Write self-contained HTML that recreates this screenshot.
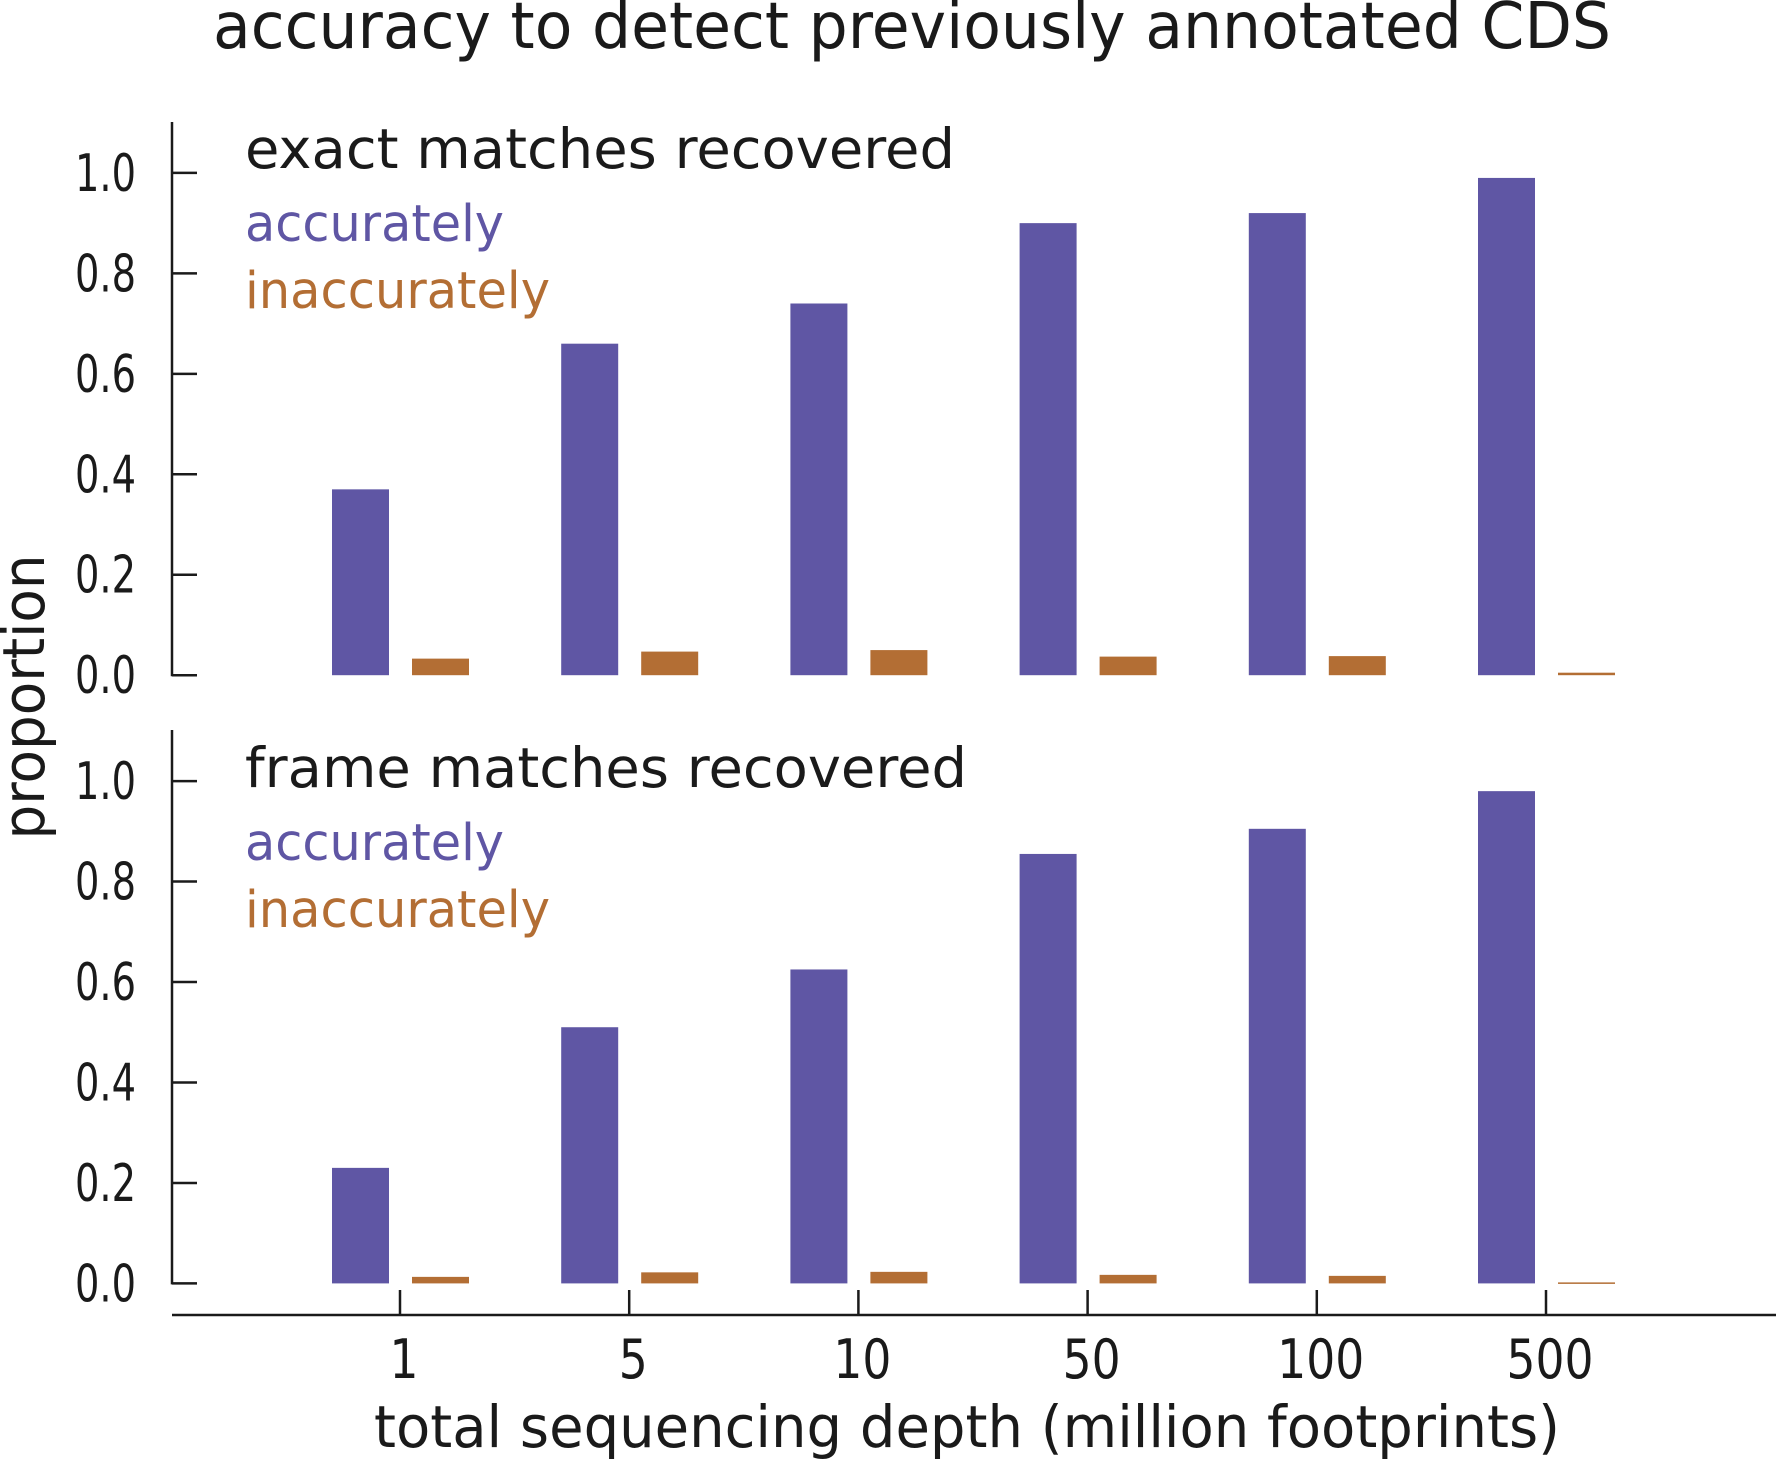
<!DOCTYPE html>
<html><head><meta charset="utf-8"><style>
html,body{margin:0;padding:0;background:#fff;}
svg{display:block;font-family:"DejaVu Sans","Liberation Sans",sans-serif;}
</style></head><body>
<svg id="chart" width="1776" height="1459" viewBox="0 0 1776 1459">
<text x="912" y="48" font-size="64" text-anchor="middle" fill="#1a1a1a" textLength="1398" lengthAdjust="spacingAndGlyphs">accuracy to detect previously annotated CDS</text>
<text transform="translate(44,697) rotate(-90)" font-size="58" text-anchor="middle" fill="#1a1a1a" textLength="285" lengthAdjust="spacingAndGlyphs">proportion</text>
<text x="967" y="1447" font-size="58" text-anchor="middle" fill="#1a1a1a" textLength="1186" lengthAdjust="spacingAndGlyphs">total sequencing depth (million footprints)</text>
<g id="g"></g>
</svg>
<script>
const categories = ["1","5","10","50","100","500"];
const exactAccurate = [0.37,0.66,0.74,0.90,0.92,0.99];
const exactInaccurate = [0.033,0.047,0.05,0.037,0.038,0.005];
const frameAccurate = [0.23,0.51,0.625,0.855,0.905,0.98];
const frameInaccurate = [0.013,0.022,0.023,0.017,0.015,0.002];
const yTicks = [0,0.2,0.4,0.6,0.8,1.0];

const NS="http://www.w3.org/2000/svg";
const g=document.getElementById('g');
function el(t,a,txt){const e=document.createElementNS(NS,t);for(const k in a)e.setAttribute(k,a[k]);if(txt!==undefined)e.textContent=txt;g.appendChild(e);return e;}
const axisX=172;
function xPos(i){return 400+i*229.2;}
const BLUE="#5f56a4", ORANGE="#b36e34";
const panels=[
 {zero:675.2,top:122,title:"exact matches recovered",tb:168,acc:exactAccurate,inacc:exactInaccurate,tw:710,name:"exact"},
 {zero:1283.4,top:730,title:"frame matches recovered",tb:787,acc:frameAccurate,inacc:frameInaccurate,tw:722,name:"frame"}
];
panels.forEach(p=>{
  const y=v=>p.zero-v*502.3;
  let e=el('line',{x1:axisX,x2:axisX,y1:p.top,y2:p.zero+1,stroke:"#1a1a1a","stroke-width":2.5});
  
  
  yTicks.forEach(t=>{
    let l=el('line',{x1:axisX,x2:197,y1:y(t),y2:y(t),stroke:"#1a1a1a","stroke-width":2.5});
    
    
    let tx=el('text',{x:136,y:y(t)+18,"font-size":52,"text-anchor":"end",fill:"#1a1a1a",textLength:61,lengthAdjust:"spacingAndGlyphs"},t.toFixed(1));
    
    
  });
  categories.forEach((c,i)=>{
    const cx=xPos(i);
    let b=el('rect',{x:cx-68,width:57,y:y(p.acc[i]),height:p.acc[i]*502.3,fill:BLUE});
    
    
    let o=el('rect',{x:cx+12,width:57,y:y(p.inacc[i]),height:Math.max(p.inacc[i]*502.3,1.5),fill:ORANGE});
    
    
  });
  let t1=el('text',{x:245,y:p.tb,"font-size":55,fill:"#1a1a1a",textLength:p.tw,lengthAdjust:"spacingAndGlyphs"},p.title);
  
  
  let t2=el('text',{x:245,y:p.tb+73,"font-size":51,fill:BLUE,textLength:259,lengthAdjust:"spacingAndGlyphs"},"accurately");
  
  
  let t3=el('text',{x:245,y:p.tb+140,"font-size":51,fill:ORANGE,textLength:305,lengthAdjust:"spacingAndGlyphs"},"inaccurately");
  
  
});
let xa=el('line',{x1:172,x2:1776,y1:1315,y2:1315,stroke:"#1a1a1a","stroke-width":2.5});


categories.forEach((c,i)=>{
  let l=el('line',{x1:xPos(i),x2:xPos(i),y1:1290,y2:1315,stroke:"#1a1a1a","stroke-width":2.5});
  
  
  let t=el('text',{x:xPos(i)+4,y:1378,"font-size":54,"text-anchor":"middle",fill:"#1a1a1a",textLength:c.length*29,lengthAdjust:"spacingAndGlyphs"},c);
  
  
});
</script>
</body></html>
